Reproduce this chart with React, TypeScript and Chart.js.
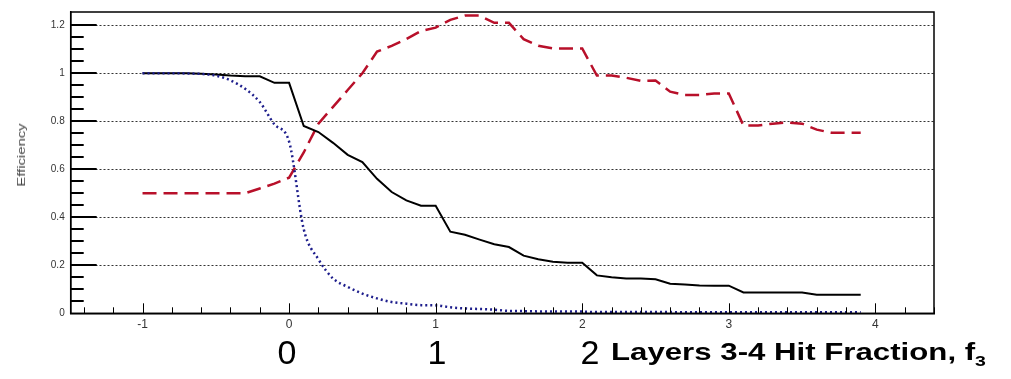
import React, { useEffect, useRef } from "react";
import { Chart, registerables } from "chart.js";

Chart.register(...registerables);

// f3 values (x positions of the points)
const xValues = [
  -1.0, -0.9, -0.8, -0.7, -0.6, -0.5, -0.4, -0.3, -0.2, -0.1,
  0.0, 0.1, 0.2, 0.3, 0.4, 0.5, 0.6, 0.7, 0.8, 0.9,
  1.0, 1.1, 1.2, 1.3, 1.4, 1.5, 1.6, 1.7, 1.8, 1.9,
  2.0, 2.1, 2.2, 2.3, 2.4, 2.5, 2.6, 2.7, 2.8, 2.9,
  3.0, 3.1, 3.2, 3.3, 3.4, 3.5, 3.6, 3.7, 3.8, 3.9,
];

// black solid curve
const blackSeries = [
  1.0, 1.0, 1.0, 1.0, 0.998, 0.995, 0.99, 0.987, 0.987, 0.96,
  0.96, 0.78, 0.755, 0.71, 0.66, 0.63, 0.56, 0.505, 0.47, 0.448,
  0.448, 0.34, 0.327, 0.307, 0.288, 0.276, 0.24, 0.225, 0.215, 0.211,
  0.211, 0.158, 0.15, 0.145, 0.145, 0.142, 0.123, 0.12, 0.116, 0.115,
  0.115, 0.087, 0.087, 0.087, 0.087, 0.087, 0.077, 0.077, 0.077, 0.077,
];

// red dashed curve
const redSeries = [
  0.5, 0.5, 0.5, 0.5, 0.5, 0.5, 0.5, 0.5, 0.52, 0.54,
  0.565, 0.67, 0.79, 0.86, 0.93, 1.0, 1.09, 1.114, 1.142, 1.176,
  1.19, 1.222, 1.24, 1.24, 1.21, 1.21, 1.142, 1.114, 1.103, 1.103,
  1.103, 0.99, 0.99, 0.981, 0.968, 0.97, 0.923, 0.909, 0.909, 0.916,
  0.916, 0.782, 0.782, 0.79, 0.795, 0.79, 0.765, 0.752, 0.752, 0.752,
];

// blue dotted curve
const blueSeries = [
  1.0, 1.0, 1.0, 0.999, 0.997, 0.99, 0.97, 0.935, 0.88, 0.787,
  0.715, 0.35, 0.225, 0.145, 0.11, 0.082, 0.062, 0.047, 0.04, 0.034,
  0.033, 0.025, 0.02, 0.018, 0.015, 0.01, 0.009, 0.008, 0.008, 0.007,
  0.007, 0.005, 0.005, 0.005, 0.005, 0.005, 0.005, 0.004, 0.004, 0.004,
  0.004, 0.004, 0.004, 0.004, 0.004, 0.004, 0.004, 0.004, 0.004, 0.004,
];

const yTicks = [0, 0.2, 0.4, 0.6, 0.8, 1, 1.2];
const xTicks = [-1, 0, 1, 2, 3, 4];
const bigLabels = ["0", "1", "2"];
const yTitle = "Efficiency";
const xTitle = "Layers 3-4 Hit Fraction, f";
const xTitleSub = "3";

const W = 1011;
const H = 379;

const rootFramePlugin = {
  id: "rootFrame",
  afterDraw(chart: any) {
    const { ctx, chartArea } = chart;
    const xs = chart.scales.x;
    const ys = chart.scales.y;
    ctx.save();
    ctx.strokeStyle = "#000";
    // frame
    ctx.lineWidth = 1.5;
    ctx.strokeRect(chartArea.left, chartArea.top, chartArea.right - chartArea.left, chartArea.bottom - chartArea.top);
    // y ticks (inside)
    ctx.lineWidth = 2;
    for (let i = 1; i <= 24; i++) {
      const v = i * 0.05;
      const y = Math.round(ys.getPixelForValue(v));
      const len = i % 4 === 0 ? 26 : 13;
      ctx.beginPath();
      ctx.moveTo(chartArea.left, y);
      ctx.lineTo(chartArea.left + len, y);
      ctx.stroke();
    }
    // x ticks (inside)
    ctx.lineWidth = 1;
    for (let i = -7; i <= 22; i++) {
      const v = i * 0.2;
      if (v < xs.min || v > xs.max) continue;
      const x = Math.round(xs.getPixelForValue(v)) + 0.5;
      const len = i % 5 === 0 ? 10 : 6;
      ctx.beginPath();
      ctx.moveTo(x, chartArea.bottom);
      ctx.lineTo(x, chartArea.bottom - len);
      ctx.stroke();
    }
    ctx.restore();
  },
};

export default function App() {
  const ref = useRef<HTMLCanvasElement | null>(null);

  useEffect(() => {
    if (!ref.current) return;
    const mk = (ys: number[]) => xValues.map((x, i) => ({ x, y: ys[i] }));
    const chart = new Chart(ref.current, {
      type: "line",
      data: {
        datasets: [
          {
            label: "blue",
            data: mk(blueSeries),
            borderColor: "#1e1e8c",
            borderWidth: 2.5,
            borderDash: [2, 3],
            pointRadius: 0,
            cubicInterpolationMode: "monotone",
            fill: false,
          },
          {
            label: "black",
            data: mk(blackSeries),
            borderColor: "#000000",
            borderWidth: 2,
            pointRadius: 0,
            tension: 0,
            fill: false,
          },
          {
            label: "red",
            data: mk(redSeries),
            borderColor: "#b8102a",
            borderWidth: 2.5,
            borderDash: [14, 7],
            pointRadius: 0,
            tension: 0,
            fill: false,
          },
        ],
      },
      options: {
        responsive: false,
        animation: false,
        devicePixelRatio: 1,
        layout: { padding: { left: 0, top: 7, right: 77, bottom: 0 } },
        plugins: { legend: { display: false }, tooltip: { enabled: false } },
        scales: {
          x: {
            type: "linear",
            min: -1.49,
            max: 4.4,
            afterBuildTicks: (s: any) => {
              s.ticks = xTicks.map((v) => ({ value: v }));
            },
            afterFit: (s: any) => {
              s.height = 65.7;
            },
            ticks: {
              includeBounds: false,
              padding: 4,
              color: "#333",
              font: { family: "'Liberation Sans', Arial, sans-serif", size: 12 },
              callback: (v: any) => String(v),
            },
            grid: { display: false, drawTicks: false },
            border: { display: true, color: "#000", width: 1.5 },
          },
          y: {
            type: "linear",
            min: 0,
            max: 1.255,
            afterBuildTicks: (s: any) => {
              s.ticks = yTicks.map((v) => ({ value: v }));
            },
            afterFit: (s: any) => {
              s.width = 70.7;
            },
            ticks: {
              includeBounds: false,
              padding: 6,
              color: "#333",
              font: { family: "'Liberation Sans', Arial, sans-serif", size: 10 },
              callback: (v: any) => String(Math.round(v * 10) / 10),
            },
            grid: { display: true, drawTicks: false, color: "#333", lineWidth: 1 },
            border: { display: true, color: "#000", width: 1.5, dash: [2, 2] },
          },
        },
      },
      plugins: [rootFramePlugin],
    } as any);
    return () => chart.destroy();
  }, []);

  const bigX = [287, 437, 590];

  return (
    <div style={{ position: "fixed", left: 0, top: 0, width: W, height: H, background: "#fff", overflow: "hidden" }}>
      <canvas ref={ref} width={W} height={H} style={{ display: "block", width: W, height: H }} />
      <div
        style={{
          position: "absolute",
          left: 20.7,
          top: 155,
          transform: "translate(-50%, -50%) rotate(-90deg) scaleX(1.35)",
          fontFamily: "'Liberation Sans', Arial, sans-serif",
          fontSize: 11,
          color: "#444",
          whiteSpace: "nowrap",
        }}
      >
        {yTitle}
      </div>
      {bigLabels.map((t, i) => (
        <div
          key={t}
          style={{
            position: "absolute",
            left: bigX[i],
            top: 352,
            transform: "translate(-50%, -50%)",
            fontFamily: "'Liberation Sans', Arial, sans-serif",
            fontSize: 34,
            lineHeight: "34px",
            color: "#000",
          }}
        >
          {t}
        </div>
      ))}
      <div
        style={{
          position: "absolute",
          left: 611,
          top: 338,
          transform: "scaleX(1.3)",
          transformOrigin: "left center",
          fontFamily: "'Liberation Sans', Arial, sans-serif",
          fontWeight: "bold",
          fontSize: 24,
          lineHeight: "28px",
          color: "#000",
          whiteSpace: "nowrap",
        }}
      >
        {xTitle}
        <sub style={{ fontSize: 15 }}>{xTitleSub}</sub>
      </div>
    </div>
  );
}
